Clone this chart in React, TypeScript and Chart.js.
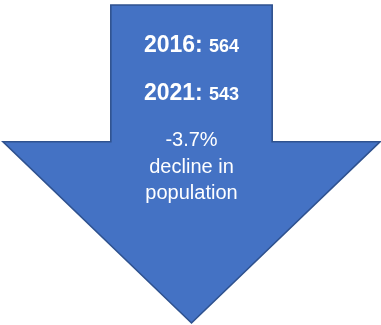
import React, { useEffect, useRef } from "react";
import { Chart, registerables } from "chart.js";

Chart.register(...registerables);

const years = ["2016", "2021"];
const population = [564, 543];
const changeLabel = ["decline in", "population"];

const FILL = "#4472C4";
const STROKE = "#2F528F";
const FONT = "'Liberation Sans', Arial, sans-serif";

const arrowPlugin = {
  id: "arrowPlugin",
  beforeDatasetsDraw(chart: any) {
    const { ctx } = chart;
    const xs = chart.scales.x;
    const ys = chart.scales.y;
    const X = (v: number) => xs.getPixelForValue(v);
    const Y = (v: number) => ys.getPixelForValue(v);
    // arrow outline in unit proportions of the shape box (0..100)
    ctx.save();
    ctx.beginPath();
    ctx.moveTo(X(28.6), Y(0));
    ctx.lineTo(X(71.4), Y(0));
    ctx.lineTo(X(71.4), Y(43));
    ctx.lineTo(X(100), Y(43));
    ctx.lineTo(X(50), Y(100));
    ctx.lineTo(X(0), Y(43));
    ctx.lineTo(X(28.6), Y(43));
    ctx.closePath();
    ctx.fillStyle = FILL;
    ctx.fill();
    ctx.lineWidth = 1.6;
    ctx.strokeStyle = STROKE;
    ctx.lineJoin = "miter";
    ctx.stroke();

    const cx = X(50);
    ctx.fillStyle = "#FFFFFF";
    ctx.textBaseline = "alphabetic";
    const lineBases = [51.5, 99.5];
    years.forEach((yr, i) => {
      const big = `bold 23px ${FONT}`;
      const small = `bold 18px ${FONT}`;
      const a = `${yr}: `;
      const b = `${population[i]}`;
      ctx.font = big;
      const wa = ctx.measureText(a).width;
      ctx.font = small;
      const wb = ctx.measureText(b).width;
      const start = cx - (wa + wb) / 2;
      ctx.textAlign = "left";
      ctx.font = big;
      ctx.fillText(a, start, lineBases[i]);
      ctx.font = small;
      ctx.fillText(b, start + wa, lineBases[i]);
    });
    const pct = ((population[1] - population[0]) / population[0]) * 100;
    ctx.textAlign = "center";
    ctx.font = `20px ${FONT}`;
    ctx.fillText(`${pct.toFixed(1)}%`, cx, 146);
    ctx.fillText(changeLabel[0], cx, 172.5);
    ctx.fillText(changeLabel[1], cx, 199);
    ctx.restore();
  },
};

export default function App() {
  const ref = useRef<HTMLCanvasElement>(null);
  useEffect(() => {
    document.body.style.margin = "0";
    const chart = new Chart(ref.current!, {
      type: "scatter",
      data: { datasets: [{ data: [], pointRadius: 0 }] },
      options: {
        animation: false,
        responsive: false,
        layout: { padding: { left: 3, right: 1, top: 5, bottom: 2 } },
        plugins: { legend: { display: false }, tooltip: { enabled: false } },
        scales: {
          x: { type: "linear", min: 0, max: 100, display: false },
          y: { type: "linear", min: 0, max: 100, reverse: true, display: false },
        },
      },
      plugins: [arrowPlugin],
    });
    return () => chart.destroy();
  }, []);
  return <canvas ref={ref} width={381} height={325} style={{ display: "block" }} />;
}
